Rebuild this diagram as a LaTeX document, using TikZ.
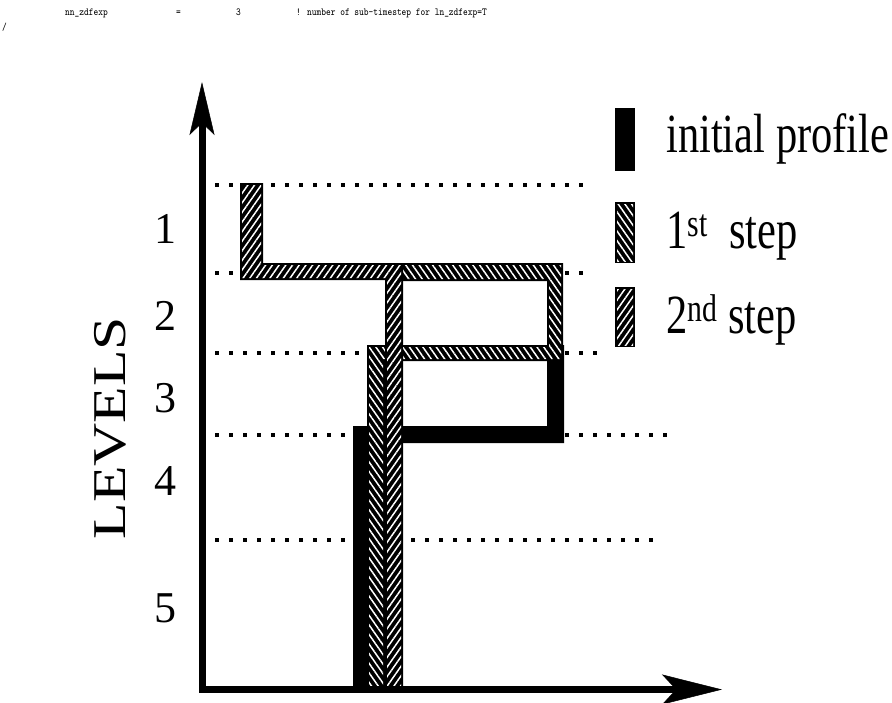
\documentclass[tikz,border=0pt]{standalone}
\usepackage{fontspec}
\setmainfont{Liberation Serif}
\usetikzlibrary{arrows.meta,patterns.meta}
\begin{document}
\begin{tikzpicture}[x=1pt,y=-1pt,
  dotline/.style={line width=3.5pt, dash pattern=on 3.5pt off 10.5pt},
  hatchA/.style={pattern={Lines[angle=-55,distance=5.5pt,line width=1.5pt]}, pattern color=white},
  hatchB/.style={pattern={Lines[angle=55,distance=5.5pt,line width=1.5pt]}, pattern color=white},
  bigtext/.style={font=\fontsize{44}{50}\selectfont, inner sep=0pt},
  legtext/.style={font=\fontsize{42.5}{50}\selectfont, inner sep=0pt, anchor=base west},
  monotext/.style={font=\fontsize{9}{10}\selectfont\ttfamily, inner sep=0pt, anchor=base west},
  axisline/.style={line width=7pt, line join=miter},
]
\useasboundingbox (0,0) rectangle (892,702);

% top code line
\node[monotext] (c1) at (65,15) {\scalebox{1}[1.2]{nn\_zdfexp}};
\node[monotext] (c2) at (176,15) {\scalebox{1}[1.2]{=}};
\node[monotext] (c3) at (236,15) {\scalebox{1}[1.2]{3}};
\node[monotext] (c4) at (296,15) {\scalebox{1}[1.2]{! number of sub-timestep for ln\_zdfexp=T}};
\node[monotext] (c5) at (2,30) {\scalebox{1}[1.2]{/}};

% dotted level lines
\draw[dotline] (215,185) -- (587,185);
\draw[dotline] (215,273) -- (587,273);
\draw[dotline] (215,353) -- (598,353);
\draw[dotline] (215,435) -- (669,435);
\draw[dotline] (215,540) -- (657,540);

% initial profile
\fill[black] (353,426) rectangle (370,690)
             (353,426) rectangle (564,443)
             (547,345) rectangle (564,443);

% 1st step
\fill[black] (367,345) rectangle (385,690)
             (367,345) rectangle (563,361)
             (547,263) rectangle (563,361)
             (394,263) rectangle (563,281);
\fill[hatchA] (369,347) rectangle (383,688)
              (369,347) rectangle (561,359)
              (549,265) rectangle (561,359)
              (396,265) rectangle (561,279);

% 2nd step
\fill[black] (240,183) rectangle (263,280)
             (240,263) rectangle (403,280)
             (385,263) rectangle (403,690);
\fill[hatchB] (242,185) rectangle (261,278)
              (242,265) rectangle (401,278)
              (387,265) rectangle (401,688);

% axes
\coordinate (ytop) at (202,82);
\coordinate (orig) at (202,689.5);
\coordinate (xend) at (722,689.5);
\draw[axisline, {Stealth[length=53pt,width=25pt,inset=12pt,line width=0.5pt]}-{Stealth[length=60pt,width=30pt,inset=14pt,line width=0.5pt]}]
  (ytop) -- (orig) -- (xend);

% level labels
\node[bigtext, anchor=base] (l1) at (165,243) {1};
\node[bigtext, anchor=base] (l2) at (165,330) {2};
\node[bigtext, anchor=base] (l3) at (165,412) {3};
\node[bigtext, anchor=base] (l4) at (165,495) {4};
\node[bigtext, anchor=base] (l5) at (165,622) {5};
\node[font=\fontsize{47}{52}\selectfont, inner sep=0pt, rotate=90] (lev) at (110,428) {\scalebox{1.27}[1]{LEVELS}};

% legend
\fill[black] (615,108) rectangle (635,171);
\fill[black] (615,202) rectangle (635,263);
\fill[hatchA] (617,204) rectangle (633,261);
\fill[black] (615,287) rectangle (635,347);
\fill[hatchB] (617,289) rectangle (633,345);
\node[legtext] (g1) at (666,152) {\scalebox{1}[1.3]{initial profile}};
\node[legtext] (g2) at (666,248) {\scalebox{1}[1.3]{1\textsuperscript{st}\ \ step}};
\node[legtext] (g3) at (666,333) {\scalebox{1}[1.3]{2\textsuperscript{nd} step}};
\end{tikzpicture}
\end{document}
